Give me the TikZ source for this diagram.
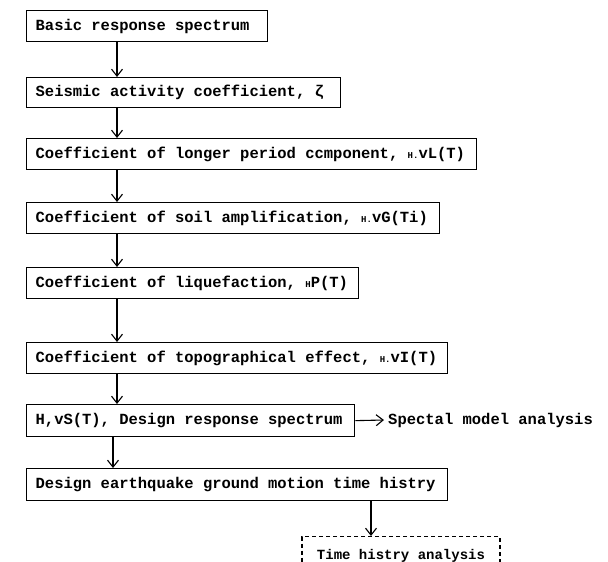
\documentclass[tikz,border=0pt]{standalone}
\usepackage{fontspec}
\setmainfont{Liberation Mono}
\usetikzlibrary{arrows.meta}
\tikzset{
  stepbox/.style={draw, line width=1.3pt, anchor=north west, inner xsep=9pt, inner ysep=0pt,
    font=\bfseries\fontsize{15.5}{17}\selectfont},
  dbox/.style={draw, line width=1.1pt, dash pattern=on 4pt off 3pt, anchor=north, inner sep=0pt,
    font=\bfseries\fontsize{14}{16}\selectfont},
  flow/.style={line width=1.1pt, -{Straight Barb[length=7pt,width=11pt,line width=1.1pt]}},
}
\newcommand{\sm}[1]{{\fontsize{9}{9}\selectfont #1}}
\newcommand{\lt}[2]{\makebox[#1pt][l]{#2}}
\begin{document}
\begin{tikzpicture}[x=1pt,y=-1pt]
\useasboundingbox (0,0) rectangle (608,562);
\clip (0,0) rectangle (608,562);
\node[stepbox, minimum height=31pt] (b1) at (26,10) {\lt{223}{Basic response spectrum}};
\node[stepbox, minimum height=30pt] (b2) at (26,77) {\lt{296}{Seismic activity coefficient, ζ}};
\node[stepbox, minimum height=31pt] (b3) at (26,138) {\lt{432}{Coefficient of longer period ccmponent, \sm{H.}vL(T)}};
\node[stepbox, minimum height=31pt] (b4) at (26,202) {\lt{395}{Coefficient of soil amplification, \sm{H.}vG(Ti)}};
\node[stepbox, minimum height=31pt] (b5) at (26,267) {\lt{314}{Coefficient of liquefaction, \sm{H}P(T)}};
\node[stepbox, minimum height=31pt] (b6) at (26,342) {\lt{403}{Coefficient of topographical effect, \sm{H.}vI(T)}};
\node[stepbox, minimum height=32pt] (b7) at (26,404) {\lt{310}{H,vS(T), Design response spectrum}};
\node[stepbox, minimum height=32pt] (b8) at (26,468) {\lt{403}{Design earthquake ground motion time histry}};
\node[dbox, minimum width=198pt, minimum height=38pt] (b9) at (401,536) {Time histry analysis};
\node[anchor=west, font=\bfseries\fontsize{15.5}{17}\selectfont, inner sep=0pt] (sp) at (388,420) {Spectal model analysis};
\foreach \a/\b in {b1/b2,b2/b3,b3/b4,b4/b5,b5/b6,b6/b7}
  \draw[flow] (\a.south -| 117,0) -- (\b.north -| 117,0);
\draw[flow] (b7.south -| 113,0) -- (b8.north -| 113,0);
\draw[flow] (b8.south -| 371,0) -- (b9.north -| 371,0);
\draw[flow] (b7.east) -- ([xshift=-4pt]sp.west);
\end{tikzpicture}
\end{document}
